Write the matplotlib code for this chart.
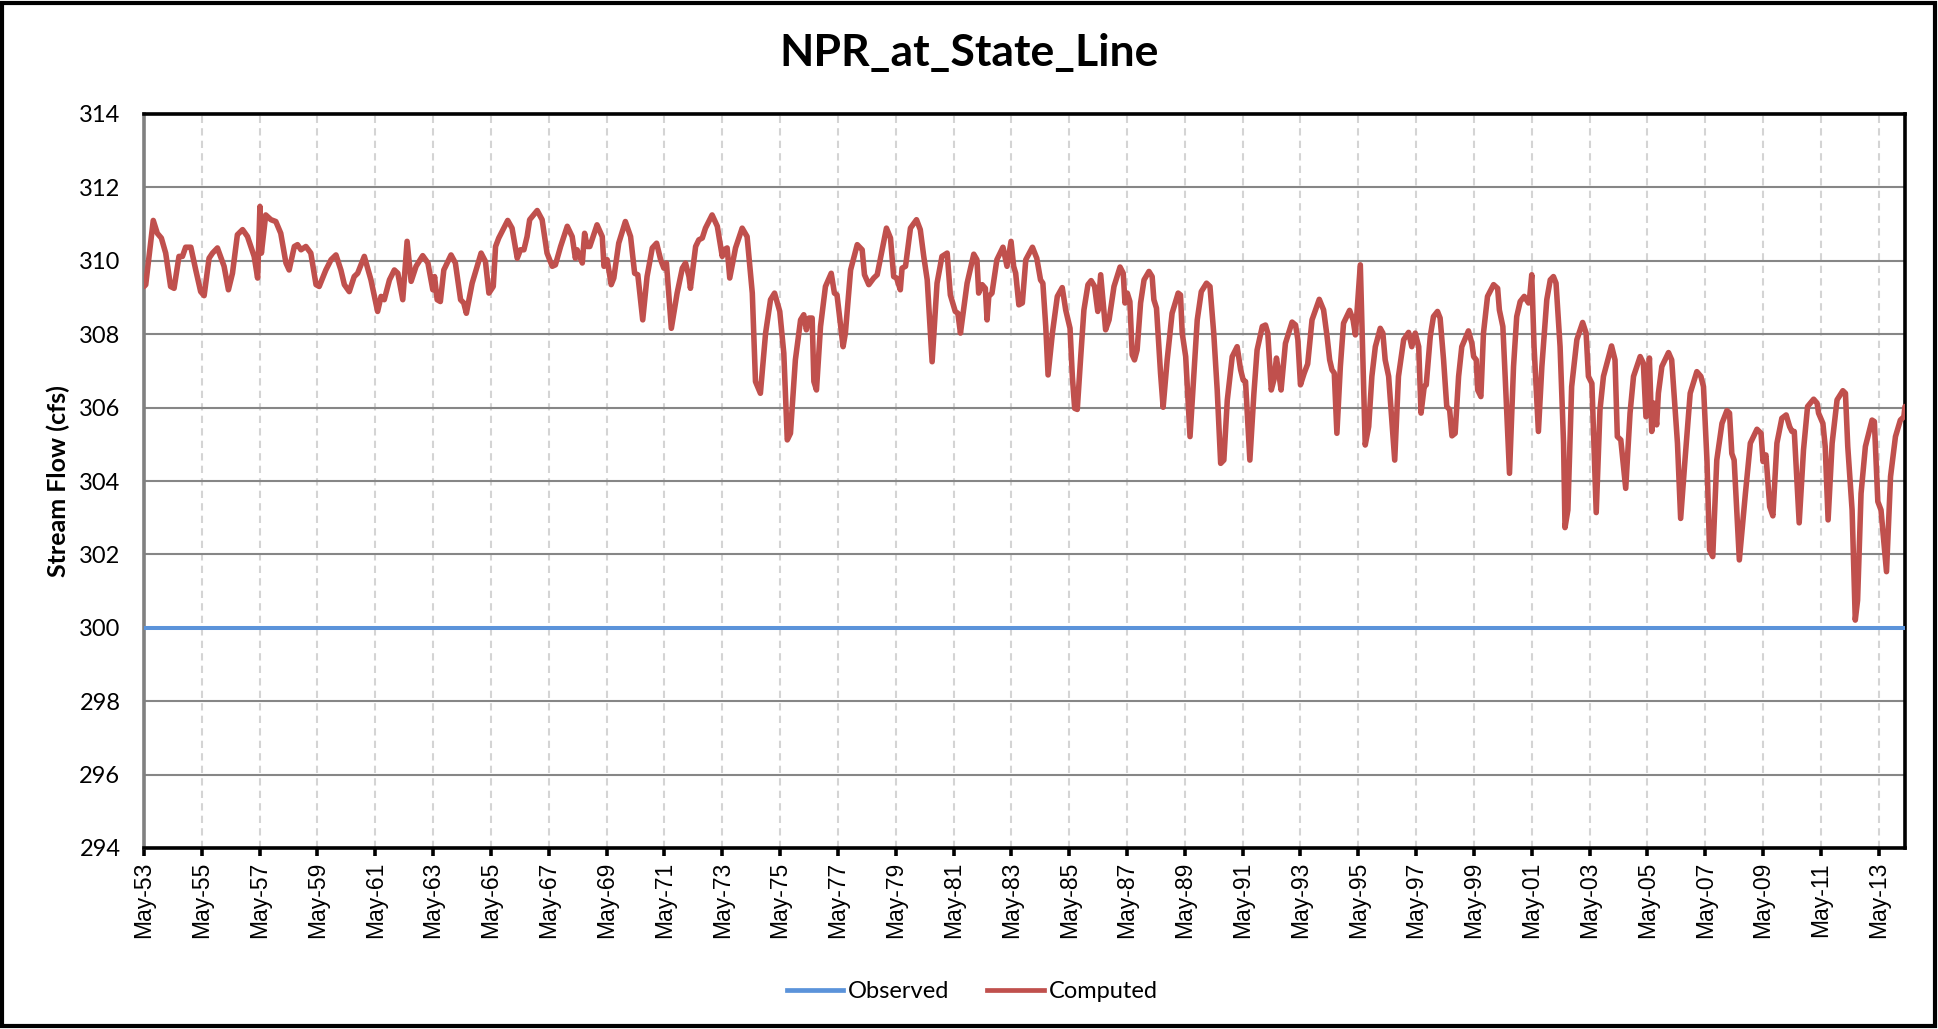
import datetime as dt
import numpy as np
import matplotlib
matplotlib.use("Agg")
import matplotlib.pyplot as plt
import matplotlib.dates as mdates
from matplotlib.patches import Rectangle
from matplotlib.lines import Line2D

# ---------------- data ----------------
title = "NPR_at_State_Line"
y_label = "Stream Flow (cfs)"
series_names = ["Observed", "Computed"]

# time in years after May 1953 of the read points of the Computed series
computed_years = [
    0.00, 0.06, 0.32, 0.46, 0.60, 0.75, 0.92, 1.04, 1.21, 1.33, 1.44, 1.62, 1.79, 1.96, 2.08,
    2.25, 2.37, 2.54, 2.77, 2.92, 3.06, 3.23, 3.41, 3.58, 3.81, 3.93, 4.01, 4.06, 4.21, 4.39,
    4.56, 4.73, 4.91, 5.02, 5.20, 5.31, 5.43, 5.60, 5.77, 5.95, 6.06, 6.29, 6.47, 6.64, 6.81,
    6.93, 7.10, 7.27, 7.39, 7.62, 7.85, 8.08, 8.20, 8.31, 8.49, 8.66, 8.78, 8.95, 9.10, 9.24,
    9.41, 9.64, 9.82, 9.99, 10.05, 10.14, 10.25, 10.37, 10.62, 10.77, 10.95, 11.06, 11.15, 11.35,
    11.66, 11.81, 11.93, 12.08, 12.16, 12.27, 12.58, 12.73, 12.91, 13.02, 13.14, 13.25, 13.34,
    13.60, 13.77, 13.94, 14.12, 14.23, 14.41, 14.64, 14.81, 14.92, 14.98, 15.16, 15.24, 15.33,
    15.42, 15.67, 15.85, 15.91, 16.02, 16.16, 16.25, 16.42, 16.65, 16.83, 16.97, 17.08, 17.25,
    17.40, 17.58, 17.73, 17.87, 17.98, 18.07, 18.24, 18.44, 18.62, 18.73, 18.85, 18.90, 19.08,
    19.19, 19.31, 19.42, 19.65, 19.83, 20.00, 20.06, 20.17, 20.26, 20.46, 20.69, 20.86, 21.04,
    21.15, 21.32, 21.50, 21.67, 21.81, 21.99, 22.13, 22.25, 22.36, 22.53, 22.71, 22.82, 22.91,
    23.00, 23.11, 23.17, 23.26, 23.40, 23.57, 23.77, 23.88, 23.97, 24.18, 24.26, 24.44, 24.67,
    24.84, 24.92, 25.07, 25.24, 25.36, 25.68, 25.82, 25.93, 26.03, 26.16, 26.22, 26.34, 26.51,
    26.72, 26.85, 26.97, 27.09, 27.26, 27.43, 27.60, 27.78, 27.89, 28.06, 28.15, 28.24, 28.47,
    28.70, 28.81, 28.87, 28.99, 29.10, 29.16, 29.22, 29.33, 29.50, 29.71, 29.85, 29.99, 30.08,
    30.15, 30.26, 30.38, 30.50, 30.73, 30.88, 31.01, 31.09, 31.19, 31.27, 31.42, 31.59, 31.76,
    31.88, 32.03, 32.11, 32.19, 32.28, 32.40, 32.51, 32.65, 32.76, 32.88, 32.99, 33.09, 33.26,
    33.38, 33.55, 33.76, 33.87, 33.93, 34.01, 34.10, 34.18, 34.26, 34.35, 34.47, 34.59, 34.76,
    34.87, 34.93, 35.02, 35.16, 35.25, 35.39, 35.56, 35.77, 35.85, 35.91, 36.03, 36.18, 36.31,
    36.43, 36.57, 36.75, 36.87, 37.00, 37.12, 37.24, 37.35, 37.47, 37.64, 37.81, 37.93, 38.02,
    38.10, 38.25, 38.39, 38.50, 38.68, 38.79, 38.87, 38.99, 39.08, 39.17, 39.25, 39.33, 39.48,
    39.71, 39.83, 39.91, 40.00, 40.13, 40.25, 40.40, 40.65, 40.80, 40.92, 41.01, 41.09, 41.17,
    41.26, 41.38, 41.49, 41.70, 41.82, 41.90, 42.07, 42.24, 42.36, 42.47, 42.59, 42.76, 42.85,
    42.93, 43.05, 43.26, 43.39, 43.57, 43.74, 43.85, 43.97, 44.09, 44.17, 44.28, 44.35, 44.49,
    44.60, 44.74, 44.83, 44.95, 45.06, 45.16, 45.24, 45.35, 45.47, 45.58, 45.81, 45.93, 45.99,
    46.08, 46.13, 46.24, 46.33, 46.47, 46.68, 46.82, 46.88, 47.00, 47.08, 47.23, 47.37, 47.48,
    47.60, 47.74, 47.89, 47.92, 48.00, 48.08, 48.23, 48.35, 48.52, 48.64, 48.75, 48.84, 48.98,
    49.10, 49.15, 49.25, 49.38, 49.56, 49.76, 49.88, 49.96, 50.08, 50.23, 50.36, 50.48, 50.76,
    50.88, 50.96, 51.08, 51.25, 51.40, 51.52, 51.75, 51.86, 51.95, 52.07, 52.15, 52.23, 52.32,
    52.38, 52.50, 52.73, 52.84, 52.96, 53.04, 53.15, 53.30, 53.48, 53.71, 53.85, 53.94, 54.06,
    54.15, 54.26, 54.40, 54.58, 54.75, 54.84, 54.92, 55.00, 55.18, 55.39, 55.56, 55.79, 55.93,
    56.00, 56.10, 56.23, 56.34, 56.48, 56.65, 56.80, 56.92, 57.00, 57.08, 57.25, 57.40, 57.54,
    57.75, 57.87, 57.92, 58.07, 58.15, 58.25, 58.39, 58.56, 58.76, 58.85, 58.93, 59.08, 59.19,
    59.27, 59.39, 59.54, 59.77, 59.85, 59.97, 60.08, 60.27, 60.41, 60.58, 60.75, 60.87, 60.91,
]

computed_flow = [
    309.30, 309.35, 311.10, 310.75, 310.62, 310.21, 309.30, 309.25, 310.12, 310.12, 310.37, 310.37, 309.75, 309.16, 309.05,
    310.07, 310.21, 310.35, 309.85, 309.21, 309.66, 310.71, 310.85, 310.66, 310.12, 309.53, 311.48, 310.21, 311.25, 311.12,
    311.07, 310.75, 309.94, 309.75, 310.39, 310.44, 310.30, 310.39, 310.21, 309.35, 309.30, 309.75, 310.03, 310.16, 309.75,
    309.35, 309.16, 309.57, 309.66, 310.12, 309.48, 308.62, 309.03, 308.94, 309.48, 309.75, 309.66, 308.94, 310.53, 309.44,
    309.85, 310.14, 309.94, 309.21, 309.57, 308.94, 308.89, 309.75, 310.16, 309.94, 308.94, 308.85, 308.57, 309.39,
    310.21, 309.98, 309.12, 309.30, 310.39, 310.62, 311.10, 310.89, 310.07, 310.30, 310.30, 310.66, 311.12,
    311.37, 311.12, 310.21, 309.85, 309.89, 310.39, 310.94, 310.66, 310.07, 310.30, 309.94, 310.75, 310.39,
    310.39, 310.98, 310.66, 309.85, 310.03, 309.35, 309.53, 310.48, 311.07, 310.66, 309.66, 309.62, 308.39,
    309.57, 310.35, 310.48, 310.03, 309.80, 309.94, 308.16, 309.12, 309.80, 309.94, 309.57, 309.25, 310.39,
    310.57, 310.62, 310.89, 311.25, 310.94, 310.12, 310.30, 310.35, 309.53, 310.35, 310.89, 310.66, 309.12,
    306.71, 306.39, 308.03, 308.94, 309.12, 308.62, 307.48, 305.12, 305.30, 307.30, 308.39, 308.53, 308.12,
    308.44, 308.44, 306.71, 306.48, 308.21, 309.30, 309.66, 309.12, 309.07, 307.66, 308.03, 309.75, 310.44,
    310.30, 309.62, 309.35, 309.53, 309.62, 310.89, 310.62, 309.57, 309.53, 309.21, 309.80, 309.85, 310.89,
    311.12, 310.85, 310.12, 309.48, 307.25, 309.39, 310.12, 310.21, 309.07, 308.62, 308.57, 308.03, 309.39,
    310.18, 310.03, 309.12, 309.35, 309.25, 308.39, 309.03, 309.12, 310.03, 310.37, 309.85, 310.53, 309.85,
    309.66, 308.80, 308.85, 310.03, 310.37, 310.07, 309.48, 309.39, 308.21, 306.89, 308.03, 309.03, 309.27,
    308.66, 308.16, 306.85, 305.98, 305.95, 307.39, 308.66, 309.35, 309.46, 309.30, 308.62, 309.62, 308.12,
    308.39, 309.30, 309.83, 309.66, 308.85, 309.12, 308.89, 307.44, 307.30, 307.57, 308.85, 309.48, 309.71,
    309.57, 308.94, 308.71, 306.94, 306.01, 307.30, 308.57, 309.12, 309.07, 308.03, 307.39, 305.21, 306.85,
    308.39, 309.16, 309.39, 309.30, 308.03, 306.48, 304.48, 304.57, 306.21, 307.39, 307.66, 307.03, 306.75,
    306.71, 304.57, 306.39, 307.57, 308.21, 308.25, 308.03, 306.48, 306.75, 307.35, 306.94, 306.48, 307.75,
    308.33, 308.25, 307.85, 306.62, 306.94, 307.19, 308.39, 308.95, 308.66, 307.94, 307.30, 307.03, 306.94,
    305.30, 307.12, 308.30, 308.65, 308.39, 307.98, 309.89, 304.98, 305.48, 306.85, 307.66, 308.16, 308.03,
    307.30, 306.85, 304.57, 306.85, 307.85, 308.05, 307.66, 308.03, 307.66, 305.85, 306.57, 306.62, 307.94,
    308.48, 308.62, 308.44, 307.30, 306.03, 305.94, 305.23, 305.30, 306.85, 307.66, 308.09, 307.75, 307.39,
    307.30, 306.48, 306.30, 308.03, 309.03, 309.35, 309.25, 308.66, 308.21, 306.85, 304.21, 307.12, 308.48,
    308.89, 309.03, 308.85, 308.94, 309.62, 307.66, 305.35, 307.12, 308.94, 309.48, 309.57, 309.39, 307.66,
    305.03, 302.73, 303.21, 306.57, 307.85, 308.32, 308.03, 306.85, 306.66, 303.14, 305.94, 306.85, 307.68,
    307.30, 305.21, 305.12, 303.80, 305.85, 306.85, 307.39, 307.21, 305.75, 307.35, 305.35, 306.12, 305.53,
    306.39, 307.12, 307.50, 307.30, 305.94, 305.03, 302.98, 304.57, 306.39, 306.98, 306.85, 306.57, 304.57,
    302.12, 301.94, 304.57, 305.57, 305.92, 305.85, 304.75, 304.57, 301.85, 303.66, 305.03, 305.41, 305.30,
    304.53, 304.71, 303.30, 303.05, 305.03, 305.71, 305.80, 305.48, 305.35, 305.35, 302.86, 304.85, 306.03,
    306.23, 306.12, 305.85, 305.57, 304.94, 302.94, 305.03, 306.21, 306.46, 306.39, 304.94, 303.21, 300.21,
    300.75, 303.66, 304.94, 305.66, 305.62, 303.44, 303.21, 301.53, 304.12, 305.21, 305.66, 305.75, 306.03,
]

observed_years = [0.00, 60.91]
observed_flow = [300.0, 300.0]

y_ticks = [294, 296, 298, 300, 302, 304, 306, 308, 310, 312, 314]
x_tick_years = list(range(1953, 2014, 2))   # May of every second year

# ---------------- plotting ----------------
start = dt.datetime(1953, 5, 1)
base = mdates.date2num(start)


def to_num(years):
    return base + np.asarray(years, dtype=float) * 365.25


W, H = 1938, 1029
fig = plt.figure(figsize=(W / 100, H / 100), dpi=100)
fig.patch.set_facecolor("white")

ax_left, ax_right, ax_top, ax_bottom = 144, 1905, 114, 848
ax = fig.add_axes([ax_left / W, 1 - ax_bottom / H, (ax_right - ax_left) / W,
                   (ax_bottom - ax_top) / H])

blue = "#5B93DA"
red = "#C0504D"

ax.plot(to_num(observed_years), observed_flow, color=blue, lw=2.9,
        solid_capstyle="butt", zorder=3, label=series_names[0])
ax.plot(to_num(computed_years), computed_flow, color=red, lw=4.0,
        solid_joinstyle="round", solid_capstyle="round", zorder=4,
        label=series_names[1])

ax.set_ylim(294, 314)
ax.set_yticks(y_ticks)
ax.set_xlim(base, to_num([60.91])[0])
xt = [mdates.date2num(dt.datetime(y, 5, 1)) for y in x_tick_years]
ax.set_xticks(xt)
ax.xaxis.set_major_formatter(mdates.DateFormatter("%b-%y"))

# grids
ax.yaxis.grid(True, color="#868686", lw=1.5, ls="-", zorder=1)
ax.xaxis.grid(True, color="#D4D4D4", lw=1.5, ls=(0, (3.5, 2.5)), zorder=1)
ax.set_axisbelow(True)

# spines
for s in ["top", "right", "bottom"]:
    ax.spines[s].set_color("black")
    ax.spines[s].set_linewidth(2.6)
ax.spines["left"].set_color("#808080")
ax.spines["left"].set_linewidth(2.6)

ax.tick_params(axis="x", direction="out", length=6, width=2.6, color="black",
               pad=4, labelrotation=90, labelsize=16.5)
ax.tick_params(axis="y", length=0, pad=17, labelsize=17)
for lab in ax.get_xticklabels():
    lab.set_fontfamily("Liberation Sans")
for lab in ax.get_yticklabels():
    lab.set_fontfamily("Lato")

ax.set_ylabel(y_label, fontsize=18, fontweight="bold", family="Lato")
ax.yaxis.set_label_coords(-(ax_left - 70) / (ax_right - ax_left), 0.5)

fig.text(969.5 / W, 1 - 53 / H, title, ha="center", va="center",
         fontsize=32, fontweight="bold", family="Lato")

handles = [Line2D([], [], color=blue, lw=3.4), Line2D([], [], color=red, lw=3.4)]
fig.legend(handles, series_names, loc="center", bbox_to_anchor=(972 / W, 1 - 992 / H),
           ncol=2, frameon=False, prop={"family": "Lato", "size": 17},
           handlelength=2.4, handletextpad=0.2, columnspacing=1.6)

# outer chart border
fig.add_artist(Rectangle((2 / W, 3 / H), 1 - 5 / W, 1 - 6 / H, transform=fig.transFigure,
                         fill=False, edgecolor="black", lw=3.0, zorder=10))

fig.savefig("out.png", dpi=100, facecolor="white")
